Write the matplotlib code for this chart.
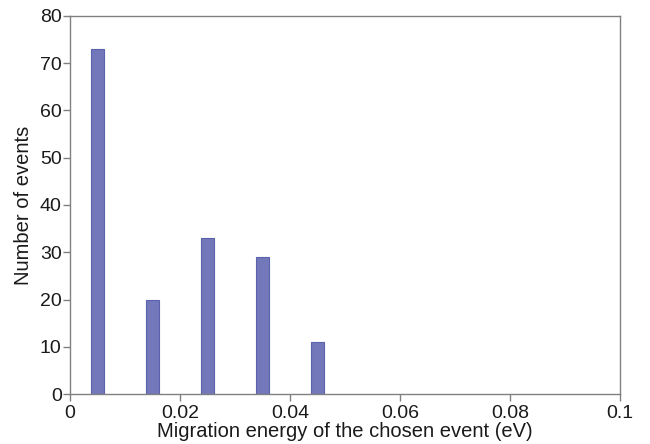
import matplotlib
matplotlib.use("Agg")
import matplotlib.pyplot as plt

plt.rcParams['font.family'] = ['Liberation Sans', 'DejaVu Sans']

# histogram of migration energies of chosen events
energia = [0.005, 0.015, 0.025, 0.035, 0.045]
eventos = [73, 20, 33, 29, 11]
ancho = 0.0025

fig = plt.figure(figsize=(6.5, 4.44), dpi=100)
ax = fig.add_axes([0.1077, 0.1126, 0.8461, 0.8514])

ax.bar(energia, eventos, width=ancho, color='#7278b9', edgecolor='#5a62ae', linewidth=0.8)

ax.set_xlim(0, 0.1)
ax.set_ylim(0, 80)
ax.set_xticks([0, 0.02, 0.04, 0.06, 0.08, 0.1])
ax.set_xticklabels(['0', '0.02', '0.04', '0.06', '0.08', '0.1'])
ax.set_yticks(range(0, 81, 10))

for s in ax.spines.values():
    s.set_color('#808080')
    s.set_linewidth(1.0)
ax.tick_params(direction='out', length=5, width=1, color='#808080',
               labelsize=14, labelcolor='#1a1a1a', pad=1)
ax.tick_params(axis='x', pad=3)

ax.set_xlabel('Migration energy of the chosen event (eV)', fontsize=14.5, color='#1a1a1a', labelpad=0)
ax.set_ylabel('Number of events', fontsize=14.5, color='#1a1a1a', labelpad=5)

fig.savefig('out.png', dpi=100)
